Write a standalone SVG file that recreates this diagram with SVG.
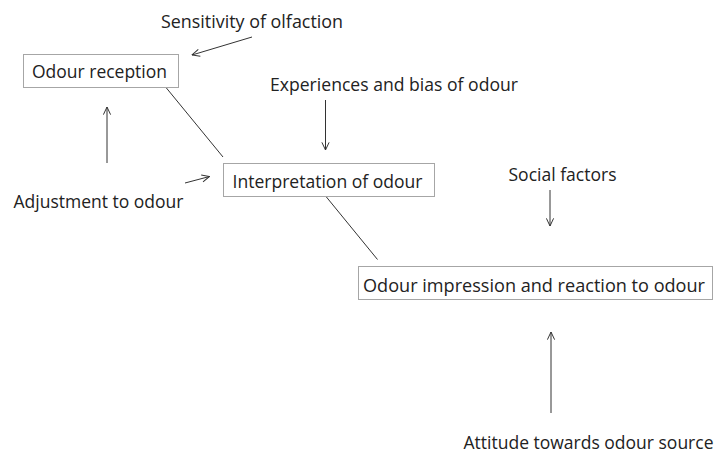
<svg xmlns="http://www.w3.org/2000/svg" width="716" height="454" viewBox="0 0 716 454">
<style>
.box{fill:#fff;stroke:#a6a6a6;stroke-width:1}
.t{font-family:"Open Sans","Noto Sans","Liberation Sans",sans-serif;font-size:17.5px;fill:#222}
.ln{stroke:#333;stroke-width:1;fill:none}
.ar{stroke:#333;stroke-width:1;fill:none;marker-end:url(#ah)}
</style>
<defs>
<marker id="ah" viewBox="0 0 10 10" refX="9.5" refY="5" markerWidth="9" markerHeight="9" markerUnits="userSpaceOnUse" orient="auto">
<path d="M1,1 L9.5,5 L1,9" fill="none" stroke="#333" stroke-width="1.1"/>
</marker>
</defs>
<rect width="716" height="454" fill="#fff"/>
<g id="connectors">
<line class="ar" x1="252" y1="37" x2="192" y2="55"/>
<line class="ln" x1="166" y1="87.5" x2="223" y2="157"/>
<line class="ar" x1="107" y1="163" x2="107" y2="107"/>
<line class="ar" x1="185" y1="183" x2="209.5" y2="176.5"/>
<line class="ar" x1="325.5" y1="100" x2="325.5" y2="150"/>
<line class="ln" x1="326" y1="196.5" x2="377.5" y2="259.5"/>
<line class="ar" x1="550" y1="190" x2="550" y2="226"/>
<line class="ar" x1="551" y1="413" x2="551" y2="332"/>
</g>
<g id="odour-reception">
<rect class="box" x="23.5" y="54.5" width="155" height="33"/>
<text class="t" x="32" y="78" textLength="135" lengthAdjust="spacingAndGlyphs">Odour reception</text>
</g>
<g id="interpretation">
<rect class="box" x="223.5" y="163.5" width="211" height="33"/>
<text class="t" x="232.5" y="187.5" textLength="190" lengthAdjust="spacingAndGlyphs">Interpretation of odour</text>
</g>
<g id="impression">
<rect class="box" x="358.5" y="266.5" width="354" height="33"/>
<text class="t" x="363" y="291.5" textLength="342" lengthAdjust="spacingAndGlyphs">Odour impression and reaction to odour</text>
</g>
<g id="sensitivity">
<text class="t" x="161" y="28" textLength="182" lengthAdjust="spacingAndGlyphs">Sensitivity of olfaction</text>
</g>
<g id="experiences">
<text class="t" x="270" y="91" textLength="248" lengthAdjust="spacingAndGlyphs">Experiences and bias of odour</text>
</g>
<g id="adjustment">
<text class="t" x="13.5" y="208" textLength="170" lengthAdjust="spacingAndGlyphs">Adjustment to odour</text>
</g>
<g id="social">
<text class="t" x="508.5" y="181" textLength="108" lengthAdjust="spacingAndGlyphs">Social factors</text>
</g>
<g id="attitude">
<text class="t" x="463.5" y="449" textLength="250" lengthAdjust="spacingAndGlyphs">Attitude towards odour source</text>
</g>
</svg>
